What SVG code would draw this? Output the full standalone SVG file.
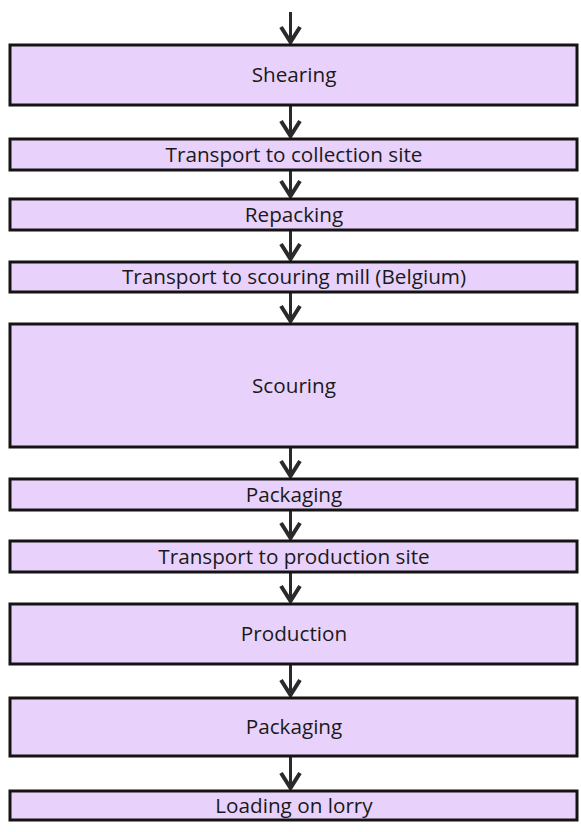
<svg xmlns="http://www.w3.org/2000/svg" width="581" height="832" viewBox="0 0 581 832">
<style>
.box{fill:#e8d2fb;stroke:#141414;stroke-width:3}
.lbl{font-family:"Open Sans","Noto Sans",sans-serif;font-size:20.7px;fill:#1a1a1a;text-anchor:middle}
.sh{stroke:#2a2a2a;stroke-width:3;fill:none}
.hd{stroke:#2a2a2a;stroke-width:4;fill:none;stroke-linejoin:miter}
</style>
<rect width="581" height="832" fill="#ffffff"/>
<g id="connectors">
<line class="sh" x1="290.5" y1="12" x2="290.5" y2="43"/><polyline class="hd" points="281,27 290.5,42 300,27"/>
<line class="sh" x1="290.5" y1="106" x2="290.5" y2="137"/><polyline class="hd" points="281,121 290.5,136 300,121"/>
<line class="sh" x1="290.5" y1="171" x2="290.5" y2="197"/><polyline class="hd" points="281,181 290.5,196 300,181"/>
<line class="sh" x1="290.5" y1="231" x2="290.5" y2="260"/><polyline class="hd" points="281,244 290.5,259 300,244"/>
<line class="sh" x1="290.5" y1="293" x2="290.5" y2="322"/><polyline class="hd" points="281,306 290.5,321 300,306"/>
<line class="sh" x1="290.5" y1="448" x2="290.5" y2="477"/><polyline class="hd" points="281,461 290.5,476 300,461"/>
<line class="sh" x1="290.5" y1="511" x2="290.5" y2="539"/><polyline class="hd" points="281,523 290.5,538 300,523"/>
<line class="sh" x1="290.5" y1="573" x2="290.5" y2="602"/><polyline class="hd" points="281,586 290.5,601 300,586"/>
<line class="sh" x1="290.5" y1="665" x2="290.5" y2="696"/><polyline class="hd" points="281,680 290.5,695 300,680"/>
<line class="sh" x1="290.5" y1="757" x2="290.5" y2="789"/><polyline class="hd" points="281,773 290.5,788 300,773"/>
</g>
<g id="n1"><rect class="box" x="10" y="45" width="567" height="60"/><text class="lbl" x="294" y="82">Shearing</text></g>
<g id="n2"><rect class="box" x="10" y="139" width="567" height="31"/><text class="lbl" x="294" y="162">Transport to collection site</text></g>
<g id="n3"><rect class="box" x="10" y="199" width="567" height="31"/><text class="lbl" x="294" y="222">Repacking</text></g>
<g id="n4"><rect class="box" x="10" y="262" width="567" height="30"/><text class="lbl" x="294" y="284">Transport to scouring mill (Belgium)</text></g>
<g id="n5"><rect class="box" x="10" y="324" width="567" height="123"/><text class="lbl" x="294" y="393">Scouring</text></g>
<g id="n6"><rect class="box" x="10" y="479" width="567" height="31"/><text class="lbl" x="294" y="502">Packaging</text></g>
<g id="n7"><rect class="box" x="10" y="541" width="567" height="31"/><text class="lbl" x="294" y="564">Transport to production site</text></g>
<g id="n8"><rect class="box" x="10" y="604" width="567" height="60"/><text class="lbl" x="294" y="641">Production</text></g>
<g id="n9"><rect class="box" x="10" y="698" width="567" height="58"/><text class="lbl" x="294" y="734">Packaging</text></g>
<g id="n10"><rect class="box" x="10" y="791" width="567" height="29"/><text class="lbl" x="294" y="813">Loading on lorry</text></g>
</svg>
